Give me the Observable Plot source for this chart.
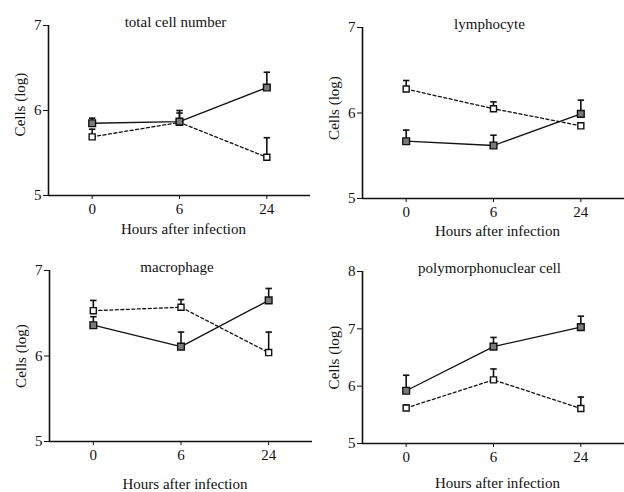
<!DOCTYPE html>
<html>
<head>
<meta charset="utf-8">
<script src="https://cdn.jsdelivr.net/npm/d3@7"></script>
<script src="https://cdn.jsdelivr.net/npm/@observablehq/plot@0.6"></script>
<style>
  html, body { margin: 0; padding: 0; background: #fff; }
  #grid { position: relative; width: 624px; height: 492px; }
  .panel { position: absolute; width: 312px; height: 246px; }
</style>
</head>
<body>
<div id="grid"></div>
<script>
// Categories (hours after infection)
const hours = ["0", "6", "24"];
const titles = ["total cell number", "lymphocyte", "macrophage", "polymorphonuclear cell"];

// Solid line (filled squares) and dashed line (open squares): means and upper error ends
const totalSolid     = [5.85, 5.87, 6.27];
const totalSolidErr  = [5.91, 6.00, 6.45];
const totalDashed    = [5.69, 5.86, 5.45];
const totalDashedErr = [5.78, 5.97, 5.68];

const lymphSolid     = [5.67, 5.62, 5.99];
const lymphSolidErr  = [5.80, 5.74, 6.15];
const lymphDashed    = [6.28, 6.05, 5.85];
const lymphDashedErr = [6.38, 6.13, 5.88];

const macroSolid     = [6.36, 6.11, 6.65];
const macroSolidErr  = [6.46, 6.28, 6.79];
const macroDashed    = [6.53, 6.57, 6.04];
const macroDashedErr = [6.65, 6.66, 6.28];

const pmnSolid       = [5.92, 6.69, 7.03];
const pmnSolidErr    = [6.19, 6.85, 7.22];
const pmnDashed      = [5.62, 6.11, 5.61];
const pmnDashedErr   = [5.67, 6.30, 5.81];

const yTicksA = [5, 6, 7];
const yTicksB = [5, 6, 7, 8];

const panels = [
  {title: titles[0], solid: totalSolid, solidErr: totalSolidErr, dashed: totalDashed, dashedErr: totalDashedErr,
   yDomain: [5, 7], yTicks: yTicksA, left: 0, top: 0, m: [25, 2, 51, 48], xl: 34, yl: -6},
  {title: titles[1], solid: lymphSolid, solidErr: lymphSolidErr, dashed: lymphDashed, dashedErr: lymphDashedErr,
   yDomain: [5, 7], yTicks: yTicksA, left: 312, top: 0, m: [27, 0, 48, 50], xl: 33, yl: -5},
  {title: titles[2], solid: macroSolid, solidErr: macroSolidErr, dashed: macroDashed, dashedErr: macroDashedErr,
   yDomain: [5, 7], yTicks: yTicksA, left: 0, top: 246, m: [24, 0, 51, 49], xl: 43, yl: 0},
  {title: titles[3], solid: pmnSolid, solidErr: pmnSolidErr, dashed: pmnDashed, dashedErr: pmnDashedErr,
   yDomain: [5, 8], yTicks: yTicksB, left: 312, top: 246, m: [25, 0, 49, 50], xl: 40, yl: 0}
];

const ink = "#111";
const fs = 15;
const grid = document.getElementById("grid");

for (const p of panels) {
  const rows = [];
  hours.forEach((h, i) => {
    rows.push({i, series: "solid", v: p.solid[i], e: p.solidErr[i]});
    rows.push({i, series: "dashed", v: p.dashed[i], e: p.dashedErr[i]});
  });
  const solid = rows.filter(d => d.series === "solid");
  const dashed = rows.filter(d => d.series === "dashed");
  const cap = 0.037;

  const chart = Plot.plot({
    width: 312,
    height: 246,
    marginTop: p.m[0],
    marginRight: p.m[1],
    marginBottom: p.m[2],
    marginLeft: p.m[3],
    style: {fontFamily: "'Liberation Serif', 'DejaVu Serif', serif", fontSize: fs + "px", color: ink, background: "white"},
    x: {domain: [-0.5, 2.5], axis: null},
    y: {domain: p.yDomain, axis: null},
    marks: [
      Plot.axisX({ticks: [0, 1, 2], tickFormat: i => hours[i], tickSize: 4, tickPadding: 4, fontSize: fs, label: null, stroke: ink, fill: ink}),
      Plot.axisY({ticks: p.yTicks, tickFormat: d => String(d), tickSize: 5, tickPadding: 2, fontSize: fs, label: null, stroke: ink, fill: ink}),
      Plot.ruleY([p.yDomain[0]], {stroke: ink, strokeWidth: 1.6}),
      Plot.ruleX([-0.5], {stroke: ink, strokeWidth: 1.6}),
      Plot.line(solid, {x: "i", y: "v", stroke: ink, strokeWidth: 1.3}),
      Plot.line(dashed, {x: "i", y: "v", stroke: ink, strokeWidth: 1.3, strokeDasharray: "3,2.5"}),
      Plot.ruleX(rows, {x: "i", y1: "v", y2: "e", stroke: ink, strokeWidth: 1.6}),
      Plot.link(rows, {x1: d => d.i - cap, x2: d => d.i + cap, y1: "e", y2: "e", stroke: ink, strokeWidth: 1.6}),
      Plot.dot(dashed, {x: "i", y: "v", symbol: "square", r: 3.4, fill: "white", stroke: ink, strokeWidth: 1.4}),
      Plot.dot(solid, {x: "i", y: "v", symbol: "square", r: 3.8, fill: "#7a7a7a", stroke: ink, strokeWidth: 1.4}),
      Plot.text([p.title], {frameAnchor: "top", dx: -4, dy: -3, lineAnchor: "middle", fontSize: fs, fill: ink}),
      Plot.text(["Cells (log)"], {frameAnchor: "left", dx: -28, dy: p.yl, rotate: -90, lineAnchor: "middle", textAnchor: "middle", fontSize: fs, fill: ink}),
      Plot.text(["Hours after infection"], {frameAnchor: "bottom", dx: 4, dy: p.xl, lineAnchor: "middle", fontSize: fs, fill: ink})
    ]
  });
  const div = document.createElement("div");
  div.className = "panel";
  div.style.left = p.left + "px";
  div.style.top = p.top + "px";
  div.appendChild(chart);
  grid.appendChild(div);
}
</script>
</body>
</html>
